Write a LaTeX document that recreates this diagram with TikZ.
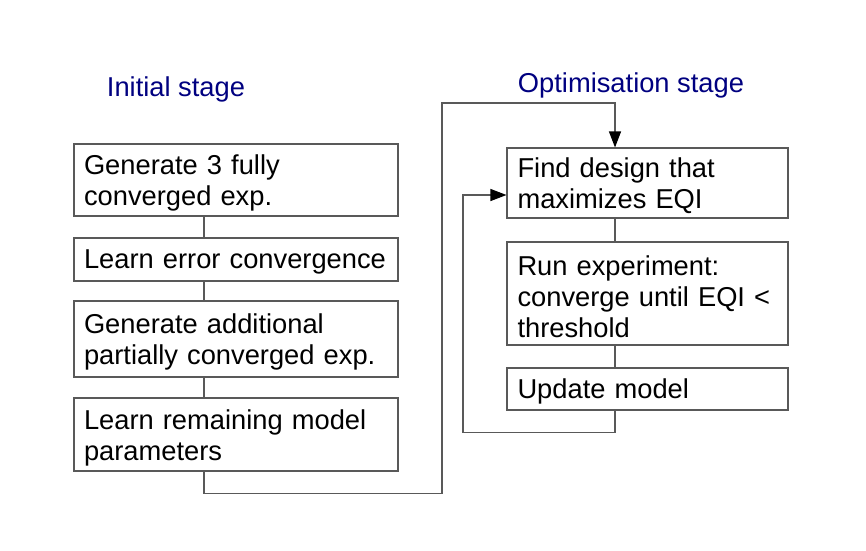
\documentclass[tikz,border=0pt]{standalone}
\usepackage{fontspec}
\setmainfont{Liberation Sans}
\usetikzlibrary{arrows.meta}
\definecolor{stageblue}{RGB}{0,0,128}
\tikzset{
  stagebox/.style={draw=black!65, line width=1.1pt, align=left, inner xsep=10pt,
    font=\fontsize{27.3}{31}\selectfont, execute at end node={\par\vspace*{-6pt}}},
  leftbox/.style={stagebox, minimum width=324pt, text width=304pt},
  rightbox/.style={stagebox, minimum width=281pt, text width=260pt},
  stagelabel/.style={text=stageblue, font=\fontsize{27.3}{31}\selectfont},
  link/.style={draw=black!65, line width=1.1pt},
  tip/.style={-{Triangle[length=16pt,width=12pt,color=black]}}
}
\begin{document}
\begin{tikzpicture}[x=1pt,y=-1pt]
  \useasboundingbox (0,0) rectangle (866,550);

  % titles
  \node[stagelabel] (initial) at (176,89) {Initial stage};
  \node[stagelabel] (optim) at (631,85) {Optimisation stage};

  % initial stage
  \node[leftbox, minimum height=72pt] (gen) at (236,180) {Generate 3 fully\\converged exp.};
  \node[leftbox, minimum height=43pt] (err) at (236,259.5) {Learn error convergence};
  \node[leftbox, minimum height=76pt] (partial) at (236,339) {Generate additional\\partially converged exp.};
  \node[leftbox, minimum height=73pt] (learn) at (236,434.5) {Learn remaining model\\parameters};

  % optimisation stage
  \node[rightbox, minimum height=70pt] (find) at (647.5,183) {Find design that\\maximizes EQI};
  \node[rightbox, minimum height=103pt] (run) at (647.5,293.5) {Run experiment:\\converge until EQI <\\threshold};
  \node[rightbox, minimum height=42pt] (update) at (647.5,389) {Update model};

  \coordinate (jump) at (442,103);
  \coordinate (loop) at (463,195);

  \draw[link] ([xshift=-32pt]gen.south) -- ([xshift=-32pt]err.north);
  \draw[link] ([xshift=-32pt]err.south) -- ([xshift=-32pt]partial.north);
  \draw[link] ([xshift=-32pt]partial.south) -- ([xshift=-32pt]learn.north);
  \draw[link, tip] ([xshift=-32pt]learn.south) -- ++(0,22) -| (jump) -| ([xshift=-32.5pt]find.north);

  \draw[link] ([xshift=-32.5pt]find.south) -- ([xshift=-32.5pt]run.north);
  \draw[link] ([xshift=-32.5pt]run.south) -- ([xshift=-32.5pt]update.north);
  \draw[link, tip] ([xshift=-32.5pt]update.south) -- ++(0,22) -| (loop) -- (loop -| find.west);
\end{tikzpicture}
\end{document}
